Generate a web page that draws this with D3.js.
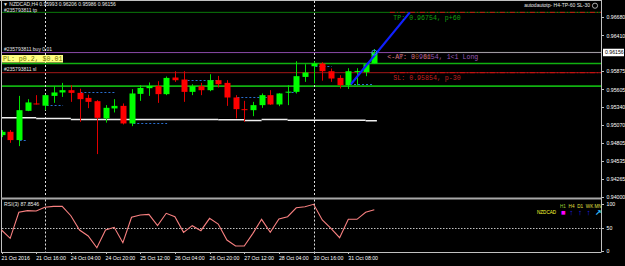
<!DOCTYPE html>
<meta charset="utf-8">
<style>
  body { margin: 0; background: #000; }
  svg text { font-family: "Liberation Sans", sans-serif; }
  .axis path, .axis line { stroke: #c0c0c0; shape-rendering: crispEdges; }
  .axis text { fill: #fff; font-size: 5.2px; font-family: "Liberation Sans", sans-serif; }
  .mono { font-family: "Liberation Mono", monospace; }
</style>
<body>
<svg class="chart"></svg>
<script src="https://d3js.org/d3.v7.min.js"></script>
<script>

// NZDCAD H4 bars, oldest first
var opens  = [0.94923,0.94972,0.94849,0.95285,0.95395,0.95362,0.95508,0.95559,0.95593,0.95553,
              0.95478,0.95429,0.95172,0.95321,0.95359,0.95097,0.95538,0.95623,0.95657,0.95534,
              0.95782,0.95752,0.95568,0.95653,0.95593,0.95742,0.95702,0.95484,0.95310,0.95295,
              0.95370,0.95519,0.95380,0.95563,0.95568,0.95791,0.95950,0.95991,0.95876,0.95776,
              0.95668,0.95872,0.95861,0.95993];
var highs  = [0.94998,0.94998,0.95508,0.95459,0.95519,0.95526,0.95653,0.95702,0.95668,0.95615,
              0.95526,0.95444,0.95370,0.95459,0.95395,0.95608,0.95668,0.95708,0.95727,0.95797,
              0.95876,0.95876,0.95682,0.95702,0.95831,0.95806,0.95742,0.95519,0.95434,0.95419,
              0.95544,0.95593,0.95548,0.95668,0.96025,0.95980,0.96025,0.96010,0.95916,0.95816,
              0.95921,0.95921,0.95995,0.96206];
var lows   = [0.94893,0.94808,0.94759,0.95280,0.95380,0.95295,0.95404,0.95493,0.95419,0.95121,
              0.95325,0.94640,0.95109,0.95261,0.95082,0.95057,0.95434,0.95508,0.95404,0.95519,
              0.95717,0.95419,0.95519,0.95519,0.95578,0.95633,0.95359,0.95172,0.95121,0.95206,
              0.95330,0.95374,0.95355,0.95370,0.95544,0.95717,0.95693,0.95735,0.95717,0.95618,
              0.95612,0.95668,0.95802,0.95986];
var closes = [0.94972,0.94849,0.95295,0.95410,0.95389,0.95519,0.95559,0.95593,0.95553,0.95459,
              0.95419,0.95181,0.95330,0.95359,0.95097,0.95544,0.95627,0.95657,0.95534,0.95776,
              0.95742,0.95568,0.95653,0.95593,0.95742,0.95682,0.95484,0.95310,0.95300,0.95370,
              0.95519,0.95380,0.95544,0.95571,0.95802,0.95857,0.95991,0.95876,0.95767,0.95668,
              0.95876,0.95880,0.95980,0.96156];

// RSI(3)
var rsi = [44.7,27,82.3,85.8,85,93,95,95,75,44.7,32,7,44.7,50.4,17.7,71.7,76.6,78,53.9,80.2,
           73,39.7,53.9,43.3,69.5,57.4,23.4,10.6,10.6,37.6,67.4,39.7,68,73,92,94.3,99.4,66,48.3,
           28.3,67.4,67.4,82.3,87.85];

// time axis
var timeTickBars = [0,4,8,12,16,20,24,28,32,36,40];
var timeLabels = ["21 Oct 2016","21 Oct 16:00","24 Oct 04:00","24 Oct 20:00","25 Oct 12:00",
                  "26 Oct 04:00","26 Oct 20:00","27 Oct 12:00","28 Oct 04:00","30 Oct 16:00","31 Oct 08:00"];
var separatorBars = [5, 36];

// price axis
var priceTicks = [0.96680,0.96410,0.95875,0.95605,0.95340,0.95070,0.94805,0.94535,0.94265,0.94000];
var bidPrice = 0.96156;
var rsiTicks = [100, 50, 0];

// order levels
var tpPrice = 0.96754, entryPrice = 0.96154, slPrice = 0.95854;
var greenLevels = [0.95990, 0.95653];

// daily open marks (blue dotted)
var dayFrom  = [2.1, 5.2, 9.1, 15.2, 21, 27.2, 33, 36.2, 40.2];
var dayTo    = [2.9, 7.1, 13.1, 19.1, 25, 30.6, 34, 38.1, 42.8];
var dayPrice = [0.94849,0.95370,0.95559,0.95097,0.95752,0.95484,0.95568,0.95950,0.95678];

// white step line
var stepFrom  = [-0.1, 4, 8, 25, 28, 30, 33, 42];
var stepTo    = [4, 8, 25, 28, 30, 33, 42, 43.3];
var stepPrice = [0.95181,0.95172,0.95157,0.95151,0.95142,0.95157,0.95146,0.95136];

// trend line to TP
var trendBars = [40.3, 47.1];
var trendPrices = [0.95682, 0.96754];

var W = 625, H = 266;
var plotL = 2, plotR = 601.5, plotT = 1, plotB = 197.5;
var rsiT = 199.5, rsiB = 252;

var svg = d3.select(".chart").attr("width", W).attr("height", H)
    .style("display", "block").style("background", "#000");

var x = d3.scaleLinear().domain([0, 43]).range([1.5, 374.3]);
var y = d3.scaleLinear().domain([0.94000, 0.96680]).range([197, 17.3]);
var yr = d3.scaleLinear().domain([0, 100]).range([251, 204]);

var main = svg.append("g");
main.append("clipPath").attr("id", "clipMain").append("rect")
    .attr("x", plotL).attr("y", plotT).attr("width", plotR - plotL).attr("height", plotB - plotT);
var plot = main.append("g").attr("clip-path", "url(#clipMain)");

// levels
plot.append("line").attr("x1", plotL).attr("x2", plotR).attr("y1", y(tpPrice)).attr("y2", y(tpPrice))
    .attr("stroke", "#0a7a0a").attr("stroke-width", 1);
plot.append("line").attr("x1", plotL).attr("x2", plotR).attr("y1", y(entryPrice)).attr("y2", y(entryPrice))
    .attr("stroke", "#8a4aa8").attr("stroke-width", 1);
plot.append("line").attr("x1", plotL).attr("x2", plotR).attr("y1", y(slPrice)).attr("y2", y(slPrice))
    .attr("stroke", "#a01818").attr("stroke-width", 1);
plot.selectAll(".glevel").data(greenLevels).enter().append("line")
    .attr("x1", plotL).attr("x2", plotR).attr("y1", d => y(d)).attr("y2", d => y(d))
    .attr("stroke", "#10b010").attr("stroke-width", 1.6);
// TP / SL dash-dot on the right
[tpPrice, slPrice].forEach(function(p) {
  plot.append("line").attr("x1", x(44.8)).attr("x2", plotR).attr("y1", y(p)).attr("y2", y(p))
      .attr("stroke", "#d01010").attr("stroke-dasharray", "5,2,1,2");
});
// bid line
plot.append("line").attr("x1", x(46)).attr("x2", plotR).attr("y1", y(bidPrice)).attr("y2", y(bidPrice))
    .attr("stroke", "#a0a0a0");

// separators
plot.selectAll(".sep").data(separatorBars).enter().append("line")
    .attr("x1", d => Math.round(x(d)) + 0.5).attr("x2", d => Math.round(x(d)) + 0.5)
    .attr("y1", plotT).attr("y2", plotB)
    .attr("stroke", "#e0e0e0").attr("stroke-dasharray", "2,2");

// white step line
plot.selectAll(".step").data(stepPrice).enter().append("line")
    .attr("x1", (d, i) => x(stepFrom[i])).attr("x2", (d, i) => x(stepTo[i]))
    .attr("y1", d => y(d)).attr("y2", d => y(d))
    .attr("stroke", "#f0f0f0").attr("stroke-width", 1.5);

// daily open marks
plot.selectAll(".dayo").data(dayPrice).enter().append("line")
    .attr("x1", (d, i) => x(dayFrom[i])).attr("x2", (d, i) => x(dayTo[i]))
    .attr("y1", d => Math.round(y(d)) + 0.5).attr("y2", d => Math.round(y(d)) + 0.5)
    .attr("stroke", "#2a6fd0").attr("stroke-dasharray", "2,2");

// candles
var bars = d3.range(opens.length);
plot.selectAll(".wick").data(bars).enter().append("line")
    .attr("x1", i => Math.round(x(i)) + 0.5).attr("x2", i => Math.round(x(i)) + 0.5)
    .attr("y1", i => y(highs[i])).attr("y2", i => y(lows[i]))
    .attr("stroke", i => closes[i] >= opens[i] ? "#00e000" : "#e00000");
plot.selectAll(".body").data(bars).enter().append("rect")
    .attr("x", i => Math.round(x(i)) - 2.5).attr("width", 6)
    .attr("y", i => y(Math.max(opens[i], closes[i])))
    .attr("height", i => Math.max(1, Math.abs(y(opens[i]) - y(closes[i]))))
    .attr("fill", i => closes[i] >= opens[i] ? "#00ff00" : "#ff0000");

// trend line to TP
plot.append("line")
    .attr("x1", x(trendBars[0])).attr("y1", y(trendPrices[0]))
    .attr("x2", x(trendBars[1])).attr("y2", y(trendPrices[1]))
    .attr("stroke", "#1020ff").attr("stroke-width", 2.2);
plot.append("circle").attr("cx", x(43)).attr("cy", y(entryPrice)).attr("r", 2.5)
    .attr("fill", "none").attr("stroke", "#3aa0ff").attr("stroke-width", 0.8);

// order labels
var lbl = main.append("g").attr("fill", "#e8e8e8").style("font-size", "5px");
lbl.append("text").attr("x", 3).attr("y", 6.3).text("\u25BC NZDCAD,H4 0.95993 0.96206 0.95986 0.96156");
lbl.append("text").attr("x", 4).attr("y", 12.3).text("#235793811 tp");
lbl.append("text").attr("x", 4).attr("y", y(entryPrice) - 1.5).text("#235793811 buy 0.01");
lbl.append("text").attr("x", 4).attr("y", y(slPrice) - 1.5).text("#235793811 sl");
lbl.append("text").attr("x", 590).attr("y", 7.3).attr("text-anchor", "end")
    .text("autodautotp- H4-TP-60 SL-30");
main.append("circle").attr("cx", 595).attr("cy", 5.7).attr("r", 2.6)
    .attr("fill", "none").attr("stroke", "#d0d0d0").attr("stroke-width", 0.8);

main.append("rect").attr("x", plotL).attr("y", 55).attr("width", 61).attr("height", 7.5).attr("fill", "#ffff80");
main.append("text").attr("class", "mono").attr("x", 3).attr("y", 61)
    .attr("fill", "#707000").style("font-size", "6.6px").text("PL: p0.2, $0.01");

main.append("text").attr("class", "mono").attr("x", x(45.2)).attr("y", y(tpPrice) + 7.5)
    .attr("fill", "#10a010").style("font-size", "6.6px").text("TP: 0.96754, p+60");
main.append("text").attr("class", "mono").attr("x", x(44.5)).attr("y", y(entryPrice) + 6.5)
    .attr("fill", "#9a5ab8").style("font-size", "6.6px").text("<-AP: 0.96154, 1<1 Long");
main.append("text").attr("class", "mono").attr("x", x(44.5)).attr("y", y(entryPrice) + 6.5)
    .attr("fill", "#c06020").attr("opacity", 0.8).style("font-size", "6.6px").text("<-AT: 30 8d");
main.append("text").attr("class", "mono").attr("x", x(45.2)).attr("y", y(slPrice) + 7.5)
    .attr("fill", "#c02020").style("font-size", "6.6px").text("SL: 0.95854, p-30");

// frames
svg.append("line").attr("x1", 1.5).attr("x2", 1.5).attr("y1", 0).attr("y2", rsiB).attr("stroke", "#c0c0c0");
svg.append("line").attr("x1", 0).attr("x2", plotR).attr("y1", 0.5).attr("y2", 0.5).attr("stroke", "#c0c0c0");
svg.append("rect").attr("x", 1).attr("y", plotB).attr("width", plotR - 1).attr("height", 2).attr("fill", "#a8a8a8");

// price axis
var yAxis = d3.axisRight(y).tickValues(priceTicks).tickFormat(d3.format(".5f")).tickSize(2).tickPadding(3);
svg.append("g").attr("class", "axis").attr("transform", "translate(" + plotR + ",0)").call(yAxis)
   .select(".domain").attr("d", "M0,0V" + rsiB);
svg.append("rect").attr("x", 603).attr("y", y(bidPrice) - 3.7).attr("width", 21).attr("height", 7.5).attr("fill", "#fff");
svg.append("text").attr("x", 605).attr("y", y(bidPrice) + 1.8).attr("fill", "#000")
   .style("font-size", "5.2px").text(d3.format(".5f")(bidPrice));

// RSI window
var rsiG = svg.append("g");
rsiG.append("line").attr("x1", plotL).attr("x2", plotR).attr("y1", Math.round(yr(50)) + 0.5).attr("y2", Math.round(yr(50)) + 0.5)
    .attr("stroke", "#c0c0c0").attr("stroke-dasharray", "1.5,1.5");
rsiG.selectAll(".sep").data(separatorBars).enter().append("line")
    .attr("x1", d => Math.round(x(d)) + 0.5).attr("x2", d => Math.round(x(d)) + 0.5)
    .attr("y1", rsiT).attr("y2", rsiB)
    .attr("stroke", "#e0e0e0").attr("stroke-dasharray", "2,2");
rsiG.append("path").datum(rsi)
    .attr("d", d3.line().x((d, i) => x(i)).y(d => yr(d)))
    .attr("fill", "none").attr("stroke", "#f88080").attr("stroke-width", 1.1);
rsiG.append("text").attr("x", 4).attr("y", 206).attr("fill", "#e8e8e8").style("font-size", "5.2px")
    .text("RSI(3) " + d3.format(".4f")(87.8546));

var rAxis = d3.axisRight(yr).tickValues(rsiTicks).tickFormat(d3.format("d")).tickSize(2).tickPadding(3);
svg.append("g").attr("class", "axis").attr("transform", "translate(" + plotR + ",0)").call(rAxis)
   .select(".domain").remove();

// multi timeframe panel
var tfs = ["H1", "H4", "D1", "WK", "MN"];
var tfCol = ["#9acd32", "#e0e040", "#e0e040", "#e0e040", "#e0e040"];
var tfArrow = ["\u25A0", "\u2191", "\u2191", "\u2191", "\u2197"];
var tfArrowCol = ["#ff00ff", "#2020ff", "#2020ff", "#2020ff", "#30c0ff"];
var mtf = svg.append("g").style("font-size", "4.6px");
tfs.forEach(function(t, i) {
  mtf.append("text").attr("x", 560 + i * 8.6).attr("y", 207.5).attr("fill", tfCol[i]).text(t);
  mtf.append("text").attr("x", 561 + i * 8.6).attr("y", 215).attr("fill", tfArrowCol[i])
     .style("font-size", "7.5px").style("font-weight", "bold").text(tfArrow[i]);
});
mtf.append("text").attr("x", 537).attr("y", 214).attr("fill", "#ffff30").text("NZDCAD");

// bottom border + time axis
svg.append("line").attr("x1", 1).attr("x2", plotR).attr("y1", rsiB + 0.5).attr("y2", rsiB + 0.5).attr("stroke", "#c0c0c0");
var tAxis = d3.axisBottom(x).tickValues(timeTickBars)
    .tickFormat((d, i) => timeLabels[i]).tickSize(2).tickPadding(2);
var tg = svg.append("g").attr("class", "axis").attr("transform", "translate(0," + rsiB + ")").call(tAxis);
tg.select(".domain").remove();
tg.selectAll(".tick text").attr("text-anchor", "start").attr("dx", "-0.5");

</script>
</body>
